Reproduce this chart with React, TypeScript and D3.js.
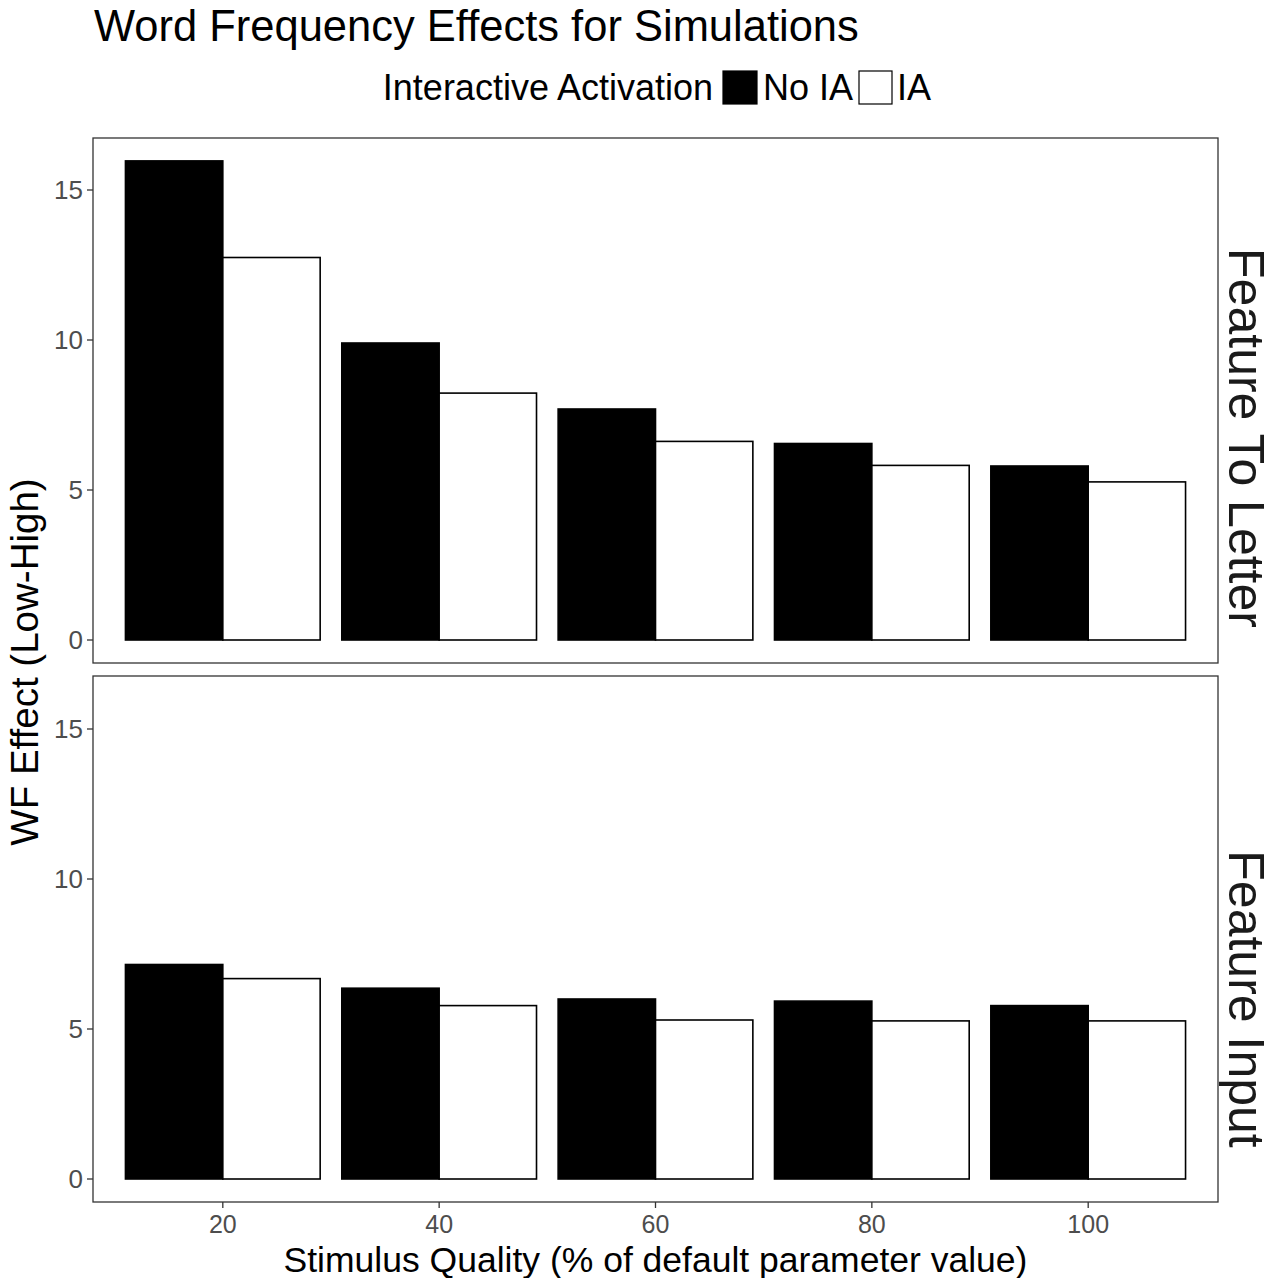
import React from 'react';
import * as d3 from 'd3';

// Data
const qualities = ['20', '40', '60', '80', '100'];
const seriesNames = ['No IA', 'IA'];
const panelNames = ['Feature To Letter', 'Feature Input'];
const letterNoIA = [15.97, 9.9, 7.7, 6.55, 5.8];
const letterIA = [12.75, 8.23, 6.62, 5.82, 5.27];
const inputNoIA = [7.15, 6.36, 6.0, 5.93, 5.78];
const inputIA = [6.68, 5.78, 5.3, 5.27, 5.27];
const yTicks = [0, 5, 10, 15];

const panelValues = [
    [letterNoIA, letterIA],
    [inputNoIA, inputIA],
];

const W = 1274;
const H = 1286;
const fontFamily = '"Liberation Sans", Arial, Helvetica, sans-serif';
const left = 93;
const right = 1218;
const panels = [
    { top: 138, bottom: 663, stripY: 438 },
    { top: 676, bottom: 1202, stripY: 999 },
];
const fills = ['#000000', '#ffffff'];

const App: React.FC = () => {
    // discrete x positions 1..5 with ggplot-style 0.6 expansion
    const x = d3.scaleLinear().domain([0.4, qualities.length + 0.6]).range([left, right]);
    const groupWidth = (x(2) - x(1)) * 0.9;
    const sub = d3.scaleBand<string>().domain(seriesNames).range([-groupWidth / 2, groupWidth / 2]);

    return (
        <svg
            width={W}
            height={H}
            viewBox={`0 0 ${W} ${H}`}
            style={{ display: 'block', background: '#fff', margin: '-8px' }}
            fontFamily={fontFamily}
        >
            <rect x={0} y={0} width={W} height={H} fill="#fff" />
            <text x={94} y={41} fontSize={43.5} fill="#000">Word Frequency Effects for Simulations</text>

            {/* legend */}
            <g>
                <text x={713} y={100} fontSize={36} textAnchor="end" fill="#000">Interactive Activation</text>
                <rect x={723} y={71} width={34} height={33} fill="#000" stroke="#000" strokeWidth={1.2} />
                <text x={763} y={100} fontSize={36} fill="#000">No IA</text>
                <rect x={859} y={71} width={33} height={33} fill="#fff" stroke="#000" strokeWidth={1.2} />
                <text x={897} y={100} fontSize={36} fill="#000">IA</text>
            </g>

            {panels.map((p, pi) => {
                const y = d3.scaleLinear().domain([0, 15]).range([p.bottom - 23, p.bottom - 473]);
                return (
                    <g key={panelNames[pi]}>
                        <rect x={left} y={p.top} width={right - left} height={p.bottom - p.top} fill="#fff" stroke="#333" strokeWidth={1.3} />
                        {yTicks.map(t => (
                            <g key={t}>
                                <line x1={left - 6} x2={left} y1={y(t)} y2={y(t)} stroke="#333" strokeWidth={1.3} />
                                <text x={left - 10} y={y(t)} dy="0.36em" fontSize={26} textAnchor="end" fill="#4d4d4d">{t}</text>
                            </g>
                        ))}
                        {qualities.map((q, qi) =>
                            seriesNames.map((s, si) => {
                                const v = panelValues[pi][si][qi];
                                const bx = x(qi + 1) + (sub(s) as number);
                                return (
                                    <rect
                                        key={q + s}
                                        x={bx}
                                        y={y(v)}
                                        width={sub.bandwidth()}
                                        height={y(0) - y(v)}
                                        fill={fills[si]}
                                        stroke="#000"
                                        strokeWidth={1.6}
                                    />
                                );
                            })
                        )}
                        <text
                            transform={`translate(${1229},${p.stripY}) rotate(90)`}
                            fontSize={50}
                            textAnchor="middle"
                            fill="#1a1a1a"
                        >
                            {panelNames[pi]}
                        </text>
                    </g>
                );
            })}

            {/* x axis */}
            {qualities.map((q, qi) => (
                <g key={q}>
                    <line x1={x(qi + 1)} x2={x(qi + 1)} y1={1202} y2={1208} stroke="#333" strokeWidth={1.3} />
                    <text x={x(qi + 1)} y={1233} fontSize={25} textAnchor="middle" fill="#4d4d4d">{q}</text>
                </g>
            ))}
            <text x={(left + right) / 2} y={1272} fontSize={35.5} textAnchor="middle" fill="#000">Stimulus Quality (% of default parameter value)</text>
            <text transform={`translate(${38},${662}) rotate(-90)`} fontSize={38.5} textAnchor="middle" fill="#000">WF Effect (Low-High)</text>
        </svg>
    );
};

export default App;
